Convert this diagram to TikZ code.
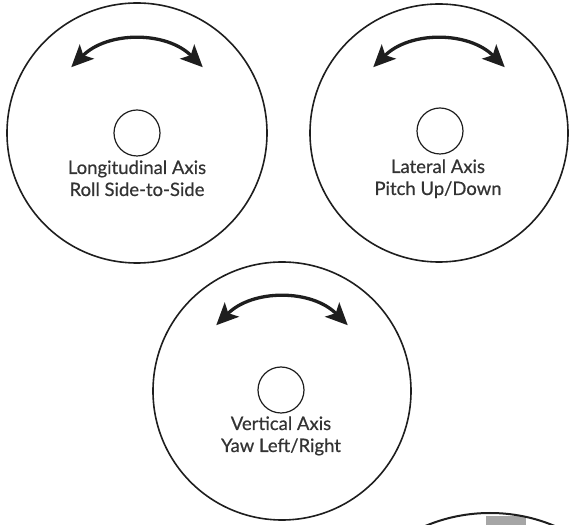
\documentclass[tikz,border=0pt]{standalone}
\usepackage{fontspec}
\setmainfont{Lato}[FakeBold=0.5]
\usetikzlibrary{arrows.meta}
\definecolor{ink}{HTML}{1E1E1E}
\definecolor{txt}{HTML}{333333}
\tikzset{
  disc/.style={circle,draw=ink,line width=1.6pt,minimum size=260pt,inner sep=0pt},
  hub/.style={circle,draw=ink,line width=1.2pt,minimum size=46pt,inner sep=0pt},
  caption/.style={align=center,anchor=base,text=txt,font=\fontsize{18.5}{22}\selectfont,inner sep=0pt},
  swing/.style={draw=ink,line width=3.3pt,{Stealth[length=22pt,width=20pt,inset=5pt]}-{Stealth[length=22pt,width=20pt,inset=5pt]}}
}
\begin{document}
\begin{tikzpicture}[x=1pt,y=1pt]
\useasboundingbox (0,0) rectangle (571,525);
% circles
\node[disc] (c1) at (137,392) {};
\node[disc,minimum size=258pt] (c2) at (439,392) {};
\node[disc,minimum size=258pt] (c3) at (282,134) {};
\node[hub] (h1) at (137,392) {};
\node[hub] (h2) at (440,394) {};
\node[hub] (h3) at (281,135) {};
% captions
\node[caption] (t1) at (137,329) {Longitudinal Axis\\Roll Side-to-Side};
\node[caption] (t2) at (438,330) {Lateral Axis\\Pitch Up/Down};
\node[caption] (t3) at (281,73) {Vertical Axis\\Yaw Left/Right};
% arrows
\draw[swing] ([shift={(135:93)}]c1.center) arc[start angle=135,end angle=45,radius=93];
\draw[swing] ([shift={(135:93)}]c2.center) arc[start angle=135,end angle=45,radius=93];
\draw[swing] ([shift={(135:93)}]c3.center) arc[start angle=135,end angle=45,radius=93];
% partial circle at bottom right
\begin{scope}
\clip (0,0) rectangle (571,525);
\begin{scope}
\clip (490,-155) circle[radius=167];
\fill[black!35] (486,0) rectangle (526,9);
\end{scope}
\draw[ink,line width=2pt] (490,-155) circle[radius=167];
\end{scope}
\end{tikzpicture}
\end{document}
